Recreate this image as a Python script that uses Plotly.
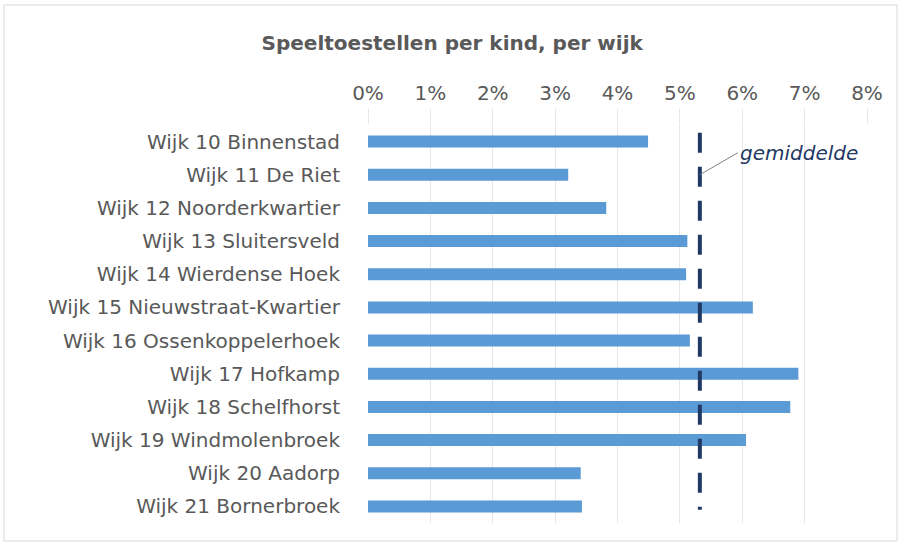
import plotly.graph_objects as go

wijken = [
    "Wijk 10 Binnenstad",
    "Wijk 11 De Riet",
    "Wijk 12 Noorderkwartier",
    "Wijk 13 Sluitersveld",
    "Wijk 14 Wierdense Hoek",
    "Wijk 15 Nieuwstraat-Kwartier",
    "Wijk 16 Ossenkoppelerhoek",
    "Wijk 17 Hofkamp",
    "Wijk 18 Schelfhorst",
    "Wijk 19 Windmolenbroek",
    "Wijk 20 Aadorp",
    "Wijk 21 Bornerbroek",
]
waarden = [0.0449, 0.0321, 0.0382, 0.0512, 0.0510, 0.0617, 0.0516, 0.0690, 0.0677, 0.0606, 0.0341, 0.0343]
gemiddelde = 0.0532
tick_vals = [0, 0.01, 0.02, 0.03, 0.04, 0.05, 0.06, 0.07, 0.08]
tick_text = ["0%", "1%", "2%", "3%", "4%", "5%", "6%", "7%", "8%"]

GRAY = "#595959"
FONT = "DejaVu Sans"

fig = go.Figure()
fig.add_trace(go.Bar(
    y=wijken, x=waarden, orientation="h",
    marker=dict(color="#5B9BD5", line=dict(width=0)),
    hoverinfo="x+y",
))

fig.add_shape(type="line", xref="x", yref="y",
              x0=gemiddelde, x1=gemiddelde, y0=-0.27, y1=11.1,
              line=dict(color="#1F3864", width=4, dash="20px,14px"))

fig.add_annotation(x=gemiddelde, y=1, xref="x", yref="y",
                   text="<i>gemiddelde</i>", showarrow=True, arrowhead=0,
                   arrowwidth=1, arrowcolor="#808080",
                   ax=38, ay=-22, xanchor="left", yanchor="middle",
                   font=dict(family=FONT, size=20, color="#1F3864"))

fig.update_layout(
    width=899, height=547,
    margin=dict(l=368, r=32, t=125, b=24),
    paper_bgcolor="white", plot_bgcolor="white",
    showlegend=False,
    bargap=0.64,
    title=dict(text="<b>Speeltoestellen per kind, per wijk</b>",
               x=0.503, xanchor="center", y=0.922, yanchor="middle",
               font=dict(family=FONT, size=20, color=GRAY)),
    font=dict(family=FONT, size=20, color=GRAY),
    xaxis=dict(side="top", range=[0, 0.08], tickvals=tick_vals, ticktext=tick_text,
               showgrid=True, gridcolor="#E6E6E6", gridwidth=1,
               zeroline=False, showline=False,
               ticks="outside", ticklen=15, tickcolor="#E6E6E6",
               ticklabelstandoff=1,
               tickfont=dict(family=FONT, size=20, color=GRAY)),
    yaxis=dict(autorange="reversed", showgrid=False, zeroline=False, showline=False,
               ticks="", ticklabelstandoff=27,
               tickfont=dict(family=FONT, size=20, color=GRAY)),
)

fig.add_shape(type="rect", xref="paper", yref="paper",
              x0=(4 - 368) / 499, x1=(897 - 368) / 499,
              y0=-(540 - 522) / 398, y1=1 + (125 - 5) / 398,
              line=dict(color="#D9D9D9", width=1), fillcolor="rgba(0,0,0,0)", layer="below")

fig.write_html("out.html", config={"displayModeBar": False},
               post_script="document.body.style.margin='0';document.body.style.padding='0';")
